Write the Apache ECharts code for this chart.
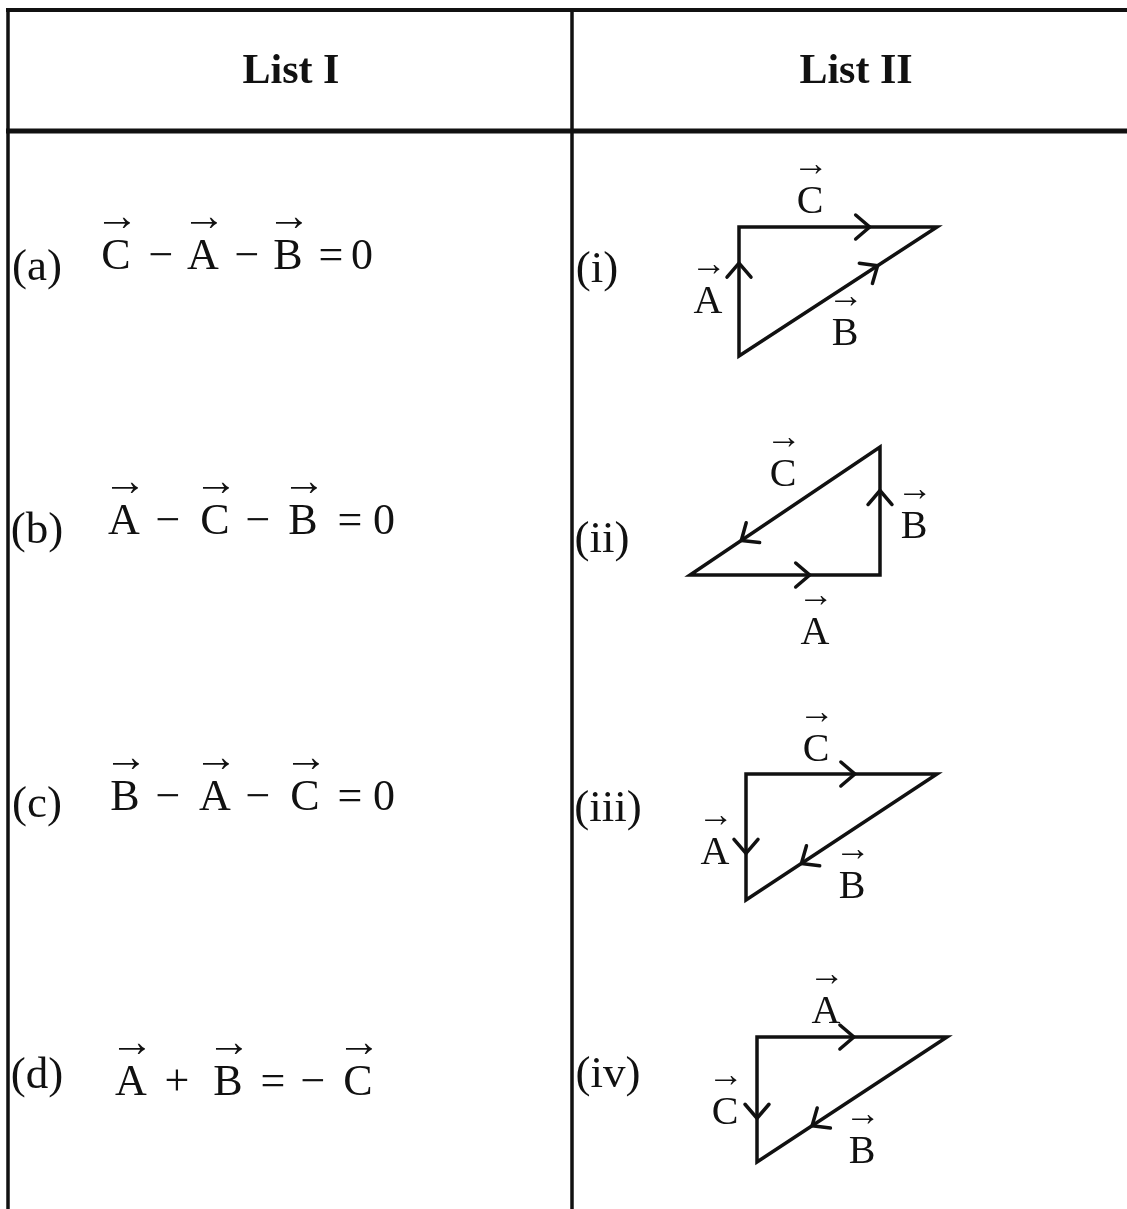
<!DOCTYPE html>
<html>
<head>
<meta charset="utf-8">
<title></title>
<script src="https://cdn.jsdelivr.net/npm/echarts@6/dist/echarts.min.js"></script>
<style>
html, body { margin: 0; padding: 0; background: #fff; }
#chart { width: 1127px; height: 1209px; }
</style>
</head>
<body>
<div id="chart"></div>
<script>
// page coordinates, y grows downward
const thinRules = [
    [[8, 9], [8, 1209]],
    [[572, 9], [572, 1209]]
];
const topRule = [[[6, 10], [1127, 10]]];
const headRule = [[[6, 131], [1127, 131]]];
const headers = [['List I', 291, 72], ['List II', 856, 72]];
const rowLabels = [['(a)', 37, 268], ['(b)', 37, 531], ['(c)', 37, 805], ['(d)', 37, 1076]];
const romanLabels = [['(i)', 597, 270], ['(ii)', 602, 540], ['(iii)', 608, 809], ['(iv)', 608, 1075]];

// equations: row centre y, then [symbol, x]
const eqRowY = [257, 522, 798, 1083];
const equations = [
    [['C', 116], ['−', 161], ['A', 203], ['−', 247], ['B', 288], ['=', 331], ['0', 362]],
    [['A', 124], ['−', 168], ['C', 215], ['−', 258], ['B', 303], ['=', 350], ['0', 384]],
    [['B', 125], ['−', 168], ['A', 215], ['−', 258], ['C', 305], ['=', 350], ['0', 384]],
    [['A', 131], ['+', 177], ['B', 228], ['=', 273], ['−', 313], ['C', 358]]
];

// triangles: each vector [name, from, to, arrowhead position along edge]
const triangles = [
    [['A', [739, 356], [739, 227], 0.72], ['C', [739, 227], [937, 227], 0.66], ['B', [739, 356], [937, 227], 0.70]],
    [['A', [690, 575], [880, 575], 0.63], ['B', [880, 575], [880, 447], 0.66], ['C', [880, 447], [690, 575], 0.73]],
    [['C', [746, 774], [937, 774], 0.57], ['A', [746, 774], [746, 900], 0.63], ['B', [937, 774], [746, 900], 0.71]],
    [['A', [757, 1037], [947, 1037], 0.51], ['C', [757, 1037], [757, 1162], 0.65], ['B', [947, 1037], [757, 1162], 0.71]]
];
const triangleLabels = [
    [['C', 810, 202], ['A', 708, 302], ['B', 845, 334]],
    [['C', 783, 475], ['B', 914, 527], ['A', 815, 633]],
    [['C', 816, 750], ['A', 715, 853], ['B', 852, 887]],
    [['A', 826, 1012], ['C', 725, 1113], ['B', 862, 1152]]
];

const SERIF = '"Liberation Serif", "DejaVu Serif", serif';
const INK = '#111';

function chevron(p, q, t) {
    const dx = q[0] - p[0], dy = q[1] - p[1];
    const len = Math.hypot(dx, dy);
    const ux = dx / len, uy = dy / len;
    const tip = [p[0] + dx * t, p[1] + dy * t];
    const back = 14, half = 12;
    return [
        [tip[0] - ux * back - uy * half, tip[1] - uy * back + ux * half],
        tip,
        [tip[0] - ux * back + uy * half, tip[1] - uy * back - ux * half]
    ];
}

const outlines = triangles.map(function (tri) {
    const v1 = tri[0][1], v2 = tri[0][2];
    // third vertex: the end of the other edges that is not on the first one
    let v3 = null;
    tri.slice(1).forEach(function (e) {
        [e[1], e[2]].forEach(function (p) {
            if (!(p[0] === v1[0] && p[1] === v1[1]) && !(p[0] === v2[0] && p[1] === v2[1])) v3 = p;
        });
    });
    return [v1, v2, v3, v1, v2];
});
const heads = [];
triangles.forEach(function (tri) {
    tri.forEach(function (e) { heads.push(chevron(e[1], e[2], e[3])); });
});

// text items
const eqGlyphs = [], eqArrows = [];
equations.forEach(function (row, i) {
    row.forEach(function (s) {
        eqGlyphs.push([s[0], s[1], eqRowY[i]]);
        if ('ABC'.indexOf(s[0]) >= 0) eqArrows.push(['→', s[1] + 1, eqRowY[i] - 39]);
    });
});
const triGlyphs = [], triArrows = [];
triangleLabels.forEach(function (row) {
    row.forEach(function (s) {
        triGlyphs.push(s);
        triArrows.push(['→', s[1] + 1, s[2] - 36]);
    });
});

function textSeries(items, font) {
    return {
        type: 'scatter',
        symbolSize: 0,
        silent: true,
        z: 5,
        itemStyle: { opacity: 1 },
        data: items.map(function (d) { return { name: d[0], value: [d[1], d[2]] }; }),
        label: Object.assign({
            show: true,
            position: 'inside',
            formatter: '{b}',
            color: INK,
            opacity: 1,
            fontFamily: SERIF
        }, font)
    };
}

function ruleSeries(segs, width) {
    return {
        type: 'lines',
        coordinateSystem: 'cartesian2d',
        polyline: true,
        silent: true,
        data: segs.map(function (c) { return { coords: c }; }),
        lineStyle: { color: INK, width: width, opacity: 1, cap: 'butt' }
    };
}

const chart = echarts.init(document.getElementById('chart'));
const option = {
    animation: false,
    backgroundColor: '#fff',
    grid: { left: 0, right: 0, top: 0, bottom: 0 },
    xAxis: { type: 'value', min: 0, max: 1127, show: false },
    yAxis: { type: 'value', min: 0, max: 1209, inverse: true, show: false },
    series: [
        ruleSeries(thinRules, 3.5),
        ruleSeries(topRule, 4),
        ruleSeries(headRule, 5),
        {
            type: 'lines',
            coordinateSystem: 'cartesian2d',
            polyline: true,
            silent: true,
            data: outlines.map(function (c) { return { coords: c }; }),
            lineStyle: { color: INK, width: 3.5, opacity: 1, join: 'miter' }
        },
        {
            type: 'lines',
            coordinateSystem: 'cartesian2d',
            polyline: true,
            silent: true,
            data: heads.map(function (c) { return { coords: c }; }),
            lineStyle: { color: INK, width: 3.5, opacity: 1, join: 'miter', cap: 'round' }
        },
        textSeries(headers, { fontSize: 42, fontWeight: 'bold' }),
        textSeries(rowLabels, { fontSize: 45 }),
        textSeries(romanLabels, { fontSize: 45 }),
        textSeries(eqGlyphs, { fontSize: 44 }),
        textSeries(eqArrows, { fontSize: 44 }),
        textSeries(triGlyphs, { fontSize: 40 }),
        textSeries(triArrows, { fontSize: 36 })
    ]
};
chart.setOption(option);
</script>
</body>
</html>
